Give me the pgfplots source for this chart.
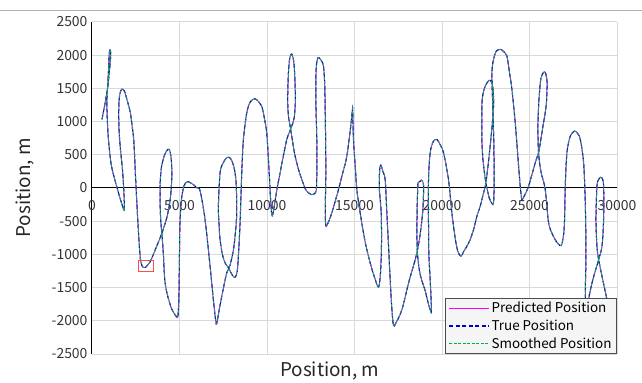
\documentclass[border=0pt]{standalone}
\usepackage{pgfplots}
\pgfplotsset{compat=1.18}
\usepackage{pgfplotstable}
\usepackage{fontspec}
\setmainfont{Noto Sans CJK KR}
\definecolor{predC}{RGB}{255,0,255}
\definecolor{trueC}{RGB}{0,0,200}
\definecolor{smoC}{RGB}{0,175,80}

\pgfplotstableread{
x y
572 1033
760 1300
900 1520
990 1750
1060 1950
1060 2060
1020 2085
980 2000
950 1800
900 1560
850 1300
880 1000
950 700
1100 350
1350 80
1600 -150
1780 -300
1850 -335
1830 -100
1750 250
1620 600
1540 900
1530 1200
1580 1400
1700 1490
1850 1460
2000 1330
2190 1134
2310 900
2384 731
2440 450
2478 229
2530 -50
2573 -274
2630 -550
2700 -850
2780 -1100
2900 -1190
3030 -1200
3180 -1160
3335 -1104
3620 -927
4000 -676
4300 -420
4480 -150
4560 150
4540 400
4450 560
4330 580
4150 500
3980 330
3900 100
3890 -200
3930 -500
4000 -700
4080 -1000
4157 -1380
4300 -1600
4550 -1820
4800 -1930
4900 -1940
4960 -1700
4990 -1200
5020 -600
5100 -200
5250 30
5450 95
5650 75
5850 40
5985 0
6175 -40
6461 -475
6747 -1179
6935 -1681
7070 -2000
7128 -2040
7260 -1850
7415 -1631
7700 -1279
7890 -1160
8100 -900
8250 -500
8270 -274
8230 100
8100 330
7900 450
7700 455
7500 380
7318 229
7223 -274
7260 -550
7318 -776
7450 -1000
7604 -1128
7800 -1200
7950 -1280
8080 -1335
8200 -1340
8300 -1250
8365 -1028
8462 -525
8557 229
8652 731
8845 1134
9050 1300
9320 1345
9550 1290
9700 1233
9850 1050
9985 832
10100 350
10200 -150
10280 -420
10380 -330
10550 -50
10747 229
10950 500
11131 731
11378 908
11550 1050
11620 1300
11600 1600
11540 1880
11450 2000
11378 2013
11290 1940
11226 1737
11188 1450
11188 1233
11240 1050
11321 932
11450 720
11607 479
11800 280
11989 128
12200 -20
12370 -72
12550 -100
12700 -90
12820 -20
12850 300
12846 731
12800 1200
12789 1485
12810 1800
12880 1940
12960 1965
13100 1920
13227 1837
13300 1550
13322 1233
13350 700
13361 229
13340 -150
13330 -450
13380 -576
13500 -520
13704 -374
14085 -23
14300 200
14562 479
14808 983
14880 1180
14900 1150
14940 731
15050 300
15133 -23
15324 -374
15600 -800
15895 -1128
16150 -1350
16370 -1495
16480 -1300
16540 -900
16530 -400
16420 0
16440 280
16505 344
16620 250
16752 128
16848 -374
16950 -900
17039 -1380
17130 -1800
17225 -2068
17350 -2040
17710 -1832
18090 -1429
18473 -1078
18568 -977
18750 -700
18900 -350
18950 0
18900 100
18817 118
18700 90
18624 53
18580 -300
18568 -700
18600 -1000
18750 -1300
19040 -1550
19230 -1750
19383 -1873
19380 -1700
19325 -1380
19250 -1000
19230 -626
19230 128
19325 531
19500 700
19708 731
19900 650
20086 531
20372 128
20565 -374
20750 -750
20900 -950
21080 -1028
21250 -950
21423 -877
21612 -776
21804 -626
22000 -420
22185 -274
22350 -100
22508 78
22700 500
22850 900
22947 1233
22930 1450
22852 1580
22740 1625
22620 1600
22470 1535
22330 1400
22279 1233
22279 731
22350 400
22508 78
22700 -150
22850 -230
22947 -224
22980 100
22960 700
22900 1233
22852 1737
22947 1937
23100 2060
23328 2088
23500 2060
23709 1988
23850 1750
23995 1485
24185 983
24376 329
24480 0
24566 -173
24700 -120
24947 27
25328 380
25518 531
25750 900
25950 1233
26000 1500
25995 1636
25900 1740
25800 1740
25650 1650
25560 1400
25518 1233
25480 900
25518 531
25650 250
25900 -23
26090 -525
26350 -720
26600 -830
26815 -867
26950 -700
27004 -475
27043 27
27138 531
27329 781
27575 857
27750 820
27902 731
28093 380
28188 -224
28228 -977
28200 -1400
28188 -1681
28220 -2000
28300 -2100
28379 -1900
28379 -1681
28600 -1400
28951 -1078
29141 -877
29236 -475
29236 27
29150 150
29045 163
28950 130
28855 27
28798 -475
28855 -877
28951 -1078
29200 -1400
29426 -1681
29650 -2050
}\traj

\pgfplotstableread{
x y
2670 -1089
3488 -1089
3488 -1264
2670 -1264
2670 -1089
}\redbox

\begin{document}
\begin{tikzpicture}
\useasboundingbox (-92bp,-29bp) rectangle (550bp,354bp);
\draw[gray!60, line width=0.8bp] (-92bp,344bp) -- (550bp,344bp);
\begin{axis}[
  at={(0,0)}, anchor=south west,
  scale only axis, width=525bp, height=332bp,
  xmin=0, xmax=30000, ymin=-2500, ymax=2500,
  axis x line=middle, axis y line=left,
  axis line style={-, black, line width=1bp},
  scaled x ticks=false, scaled y ticks=false,
  xtick={0,5000,...,30000},
  xticklabels={0,5000,10000,15000,20000,25000,30000},
  ytick={-2500,-2000,...,2500},
  yticklabels={-2500,-2000,-1500,-1000,-500,0,500,1000,1500,2000,2500},
  hide obscured x ticks=false, hide obscured y ticks=false,
  major tick length=0pt,
  grid=major, grid style={gray!30, line width=1bp},
  tick label style={font=\fontsize{14}{16}\selectfont, text=black!80},
  xticklabel style={yshift=-9bp},
  yticklabel style={xshift=-1bp},
  every axis x label/.style={at={(axis description cs:0.453,-0.0678)}, anchor=base, font=\fontsize{19}{22}\selectfont, text=black!85},
  every axis y label/.style={at={(axis description cs:-0.118,0.5)}, rotate=90, anchor=base, font=\fontsize{19}{22}\selectfont, text=black!85},
  xlabel={Position, m}, ylabel={Position, m},
  legend style={at={(axis description cs:1,0)}, anchor=south east,
    draw=gray!60!black, line width=1bp, fill=gray!8,
    font=\fontsize{13.5}{16}\selectfont, inner xsep=3.5bp, inner ysep=2.5bp,
    row sep=2.5bp, nodes={inner sep=1.5bp}},
  legend cell align=left,
  legend image code/.code={\draw[#1, line width=1.4bp] (0bp,0bp) -- (40bp,0bp);},
]
\addplot[color=predC, line width=1bp, smooth, tension=0.5] table {\traj};
\addplot[color=trueC, line width=1bp, dash pattern=on 4bp off 2.5bp, smooth, tension=0.5] table {\traj};
\addplot[color=smoC, line width=0.9bp, dash pattern=on 3bp off 1.5bp, smooth, tension=0.5] table {\traj};
\addplot[color=red!70, line width=1bp, forget plot] table {\redbox};
\legend{Predicted Position, True Position, Smoothed Position}
\end{axis}
\end{tikzpicture}
\end{document}
